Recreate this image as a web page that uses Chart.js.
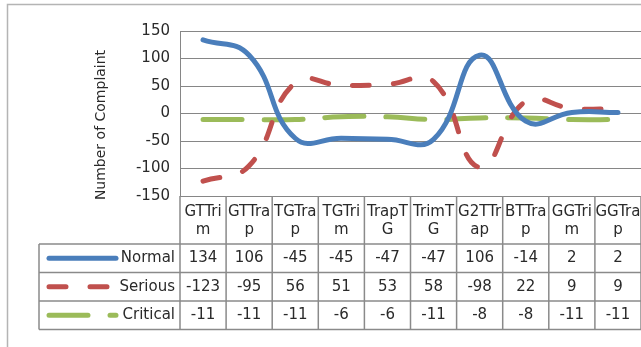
<!DOCTYPE html>
<html>
<head>
<meta charset="utf-8">
<script src="https://cdn.jsdelivr.net/npm/chart.js@4/dist/chart.umd.min.js"></script>
<style>
  html, body { margin: 0; padding: 0; background: #fff; }
  #wrap { width: 641px; height: 347px; }
</style>
</head>
<body>
<div id="wrap"><canvas id="c" width="641" height="347"></canvas></div>
<script>
// Complaint categories and the wrapped header text shown in the data table
const categories = ['GTTrim', 'GTTrap', 'TGTrap', 'TGTrim', 'TrapTG', 'TrimTG', 'G2TTrap', 'BTTrap', 'GGTrim', 'GGTrap'];
const headerLabels = [['GTTri', 'm'], ['GTTra', 'p'], ['TGTra', 'p'], ['TGTri', 'm'], ['TrapT', 'G'], ['TrimT', 'G'], ['G2TTr', 'ap'], ['BTTra', 'p'], ['GGTri', 'm'], ['GGTra', 'p']];

// Series values
const normal = [134, 106, -45, -45, -47, -47, 106, -14, 2, 2];
const serious = [-123, -95, 56, 51, 53, 58, -98, 22, 9, 9];
const critical = [-11, -11, -11, -6, -6, -11, -8, -8, -11, -11];

// Value axis
const yMin = -150;
const yMax = 150;
const yStep = 50;
const yTitle = 'Number of Complaint';

const FONT = '"DejaVu Sans", sans-serif';
const TEXT = '#2a2a2a';
const GRID = '#868686';

const seriesStyle = [
  { label: 'Normal', data: normal, color: '#4A7EBB', dash: [] },
  { label: 'Serious', data: serious, color: '#C0504D', dash: [17, 24] },
  { label: 'Critical', data: critical, color: '#9BBB59', dash: [39, 22] }
];

// Frame, axis title and data table drawn around the plot
const tablePlugin = {
  id: 'dataTable',
  beforeDraw(chart) {
    const ctx = chart.ctx;
    ctx.save();
    ctx.strokeStyle = '#b4b4b4';
    ctx.lineWidth = 1.5;
    ctx.beginPath();
    ctx.moveTo(7.5, 347);
    ctx.lineTo(7.5, 4.5);
    ctx.lineTo(641, 4.5);
    ctx.stroke();
    ctx.restore();
  },
  afterDraw(chart) {
    const ctx = chart.ctx;
    const area = chart.chartArea;
    const xs = chart.scales.x;
    const n = categories.length;
    const colW = (area.right - area.left) / n;
    const top = area.bottom;
    const headerBottom = top + 48;
    const rowH = 28.5;
    const legendLeft = 39;

    ctx.save();
    // axis title
    ctx.fillStyle = TEXT;
    ctx.font = '14px ' + FONT;
    ctx.textAlign = 'center';
    ctx.textBaseline = 'middle';
    ctx.translate(101, 125);
    ctx.rotate(-Math.PI / 2);
    ctx.fillText(yTitle, 0, 0);
    ctx.restore();

    ctx.save();
    ctx.fillStyle = TEXT;
    ctx.font = '15px ' + FONT;
    ctx.textAlign = 'center';
    ctx.textBaseline = 'middle';
    // header cells
    for (let i = 0; i < n; i++) {
      const cx = xs.getPixelForValue(i);
      const lines = headerLabels[i];
      lines.forEach((t, k) => ctx.fillText(t, cx, top + 16 + k * 18));
    }
    // value cells
    chart.data.datasets.forEach((ds, r) => {
      const cy = headerBottom + rowH * r + rowH / 2;
      for (let i = 0; i < n; i++) {
        ctx.fillText(String(ds.data[i]), xs.getPixelForValue(i), cy);
      }
      // legend key
      ctx.save();
      ctx.strokeStyle = ds.borderColor;
      ctx.lineWidth = 5;
      ctx.lineCap = 'round';
      ctx.setLineDash(ds.borderDash || []);
      ctx.beginPath();
      ctx.moveTo(49, cy);
      ctx.lineTo(116, cy);
      ctx.stroke();
      ctx.restore();
      ctx.textAlign = 'right';
      ctx.fillText(ds.label, area.left - 5, cy);
      ctx.textAlign = 'center';
    });

    // table rules
    ctx.strokeStyle = '#8a8a8a';
    ctx.lineWidth = 1.5;
    ctx.beginPath();
    const bottom = headerBottom + rowH * 3;
    for (let i = 0; i <= n; i++) {
      const x = area.left + i * colW;
      ctx.moveTo(x, top);
      ctx.lineTo(x, bottom);
    }
    ctx.moveTo(legendLeft, headerBottom);
    ctx.lineTo(legendLeft, bottom);
    for (let r = 0; r <= 3; r++) {
      const y = headerBottom + rowH * r;
      ctx.moveTo(legendLeft, y);
      ctx.lineTo(area.right, y);
    }
    ctx.stroke();
    ctx.restore();
  }
};

new Chart(document.getElementById('c'), {
  type: 'line',
  data: {
    labels: categories,
    datasets: seriesStyle.map(s => ({
      label: s.label,
      data: s.data,
      borderColor: s.color,
      backgroundColor: s.color,
      borderWidth: 5,
      borderDash: s.dash,
      borderCapStyle: 'round',
      borderJoinStyle: 'round',
      pointRadius: 0,
      pointHoverRadius: 0,
      tension: 0.45,
      fill: false
    }))
  },
  options: {
    responsive: false,
    animation: false,
    events: [],
    layout: { padding: { left: 0, top: 31, right: 0, bottom: 151 } },
    plugins: { legend: { display: false }, tooltip: { enabled: false } },
    scales: {
      x: {
        display: false,
        offset: true
      },
      y: {
        min: yMin,
        max: yMax,
        afterFit(scale) { scale.width = 180; },
        ticks: {
          stepSize: yStep,
          padding: 10,
          color: TEXT,
          font: { family: FONT, size: 15 }
        },
        grid: { color: GRID, lineWidth: 1, drawTicks: false },
        border: { color: GRID, width: 1 }
      }
    }
  },
  plugins: [tablePlugin]
});
</script>
</body>
</html>
